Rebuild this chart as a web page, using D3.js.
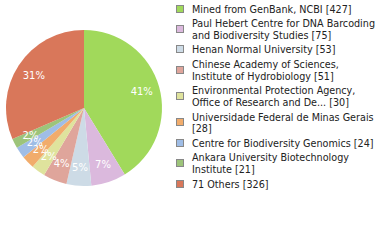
<!DOCTYPE html>
<html>
<head>
<meta charset="utf-8">
<script src="https://cdn.jsdelivr.net/npm/d3@7"></script>
<style>
  body { margin: 0; background: #fff; }
  svg { display: block; }
</style>
</head>
<body>
<div id="chart"></div>
<script>
// Chart size
const w = 380;
const h = 240;

// Data
const labels = [
  ['Mined from GenBank, NCBI [427]'],
  ['Paul Hebert Centre for DNA Barcoding', 'and Biodiversity Studies [75]'],
  ['Henan Normal University [53]'],
  ['Chinese Academy of Sciences,', 'Institute of Hydrobiology [51]'],
  ['Environmental Protection Agency,', 'Office of Research and De... [30]'],
  ['Universidade Federal de Minas Gerais', '[28]'],
  ['Centre for Biodiversity Genomics [24]'],
  ['Ankara University Biotechnology', 'Institute [21]'],
  ['71 Others [326]']
];
const counts = [427, 75, 53, 51, 30, 28, 24, 21, 326];
const colors = ['#a1d95b', '#dbb9dd', '#cddbe6', '#dfa59b', '#dfe39d',
                '#f1ac6c', '#9fbde6', '#9dc47a', '#d9775a'];

const cx = 84, cy = 108, radius = 78;
const total = d3.sum(counts);

const svg = d3.select('#chart')
  .append('svg')
  .attr('width', w)
  .attr('height', h);

const pie = d3.pie().sort(null).value(d => d)(counts);
const arc = d3.arc().innerRadius(0).outerRadius(radius);
const labelArc = d3.arc().innerRadius(60).outerRadius(60);

const g = svg.append('g').attr('transform', 'translate(' + cx + ',' + cy + ')');

g.selectAll('path')
  .data(pie)
  .enter()
  .append('path')
  .attr('d', arc)
  .attr('fill', (d, i) => colors[i]);

// percentages are truncated, not rounded
g.selectAll('text')
  .data(pie)
  .enter()
  .append('text')
  .attr('transform', d => 'translate(' + labelArc.centroid(d) + ')')
  .attr('text-anchor', 'middle')
  .attr('dy', '0.35em')
  .style('font-family', 'DejaVu Sans')
  .style('font-size', '10px')
  .attr('fill', '#fff')
  .text(d => Math.floor(d.data / total * 100) + '%');

// Legend
const lineH = 11.5;
const gap = 3.2;
let base = 12.5;
const legend = svg.append('g');
labels.forEach(function (lines, i) {
  const first = base;
  const last = base + (lines.length - 1) * lineH;
  const mid = (first + last) / 2;
  legend.append('rect')
    .attr('x', 176.5)
    .attr('y', Math.round(mid - 8) + 0.5)
    .attr('width', 7)
    .attr('height', 7)
    .attr('fill', colors[i])
    .attr('stroke', '#888')
    .attr('stroke-width', 1);
  lines.forEach(function (t, j) {
    legend.append('text')
      .attr('x', 192)
      .attr('y', first + j * lineH)
      .style('font-family', 'DejaVu Sans Condensed, DejaVu Sans')
      .style('font-size', '10.7px')
      .attr('fill', '#222')
      .text(t);
  });
  base = last + lineH + gap;
});
</script>
</body>
</html>
